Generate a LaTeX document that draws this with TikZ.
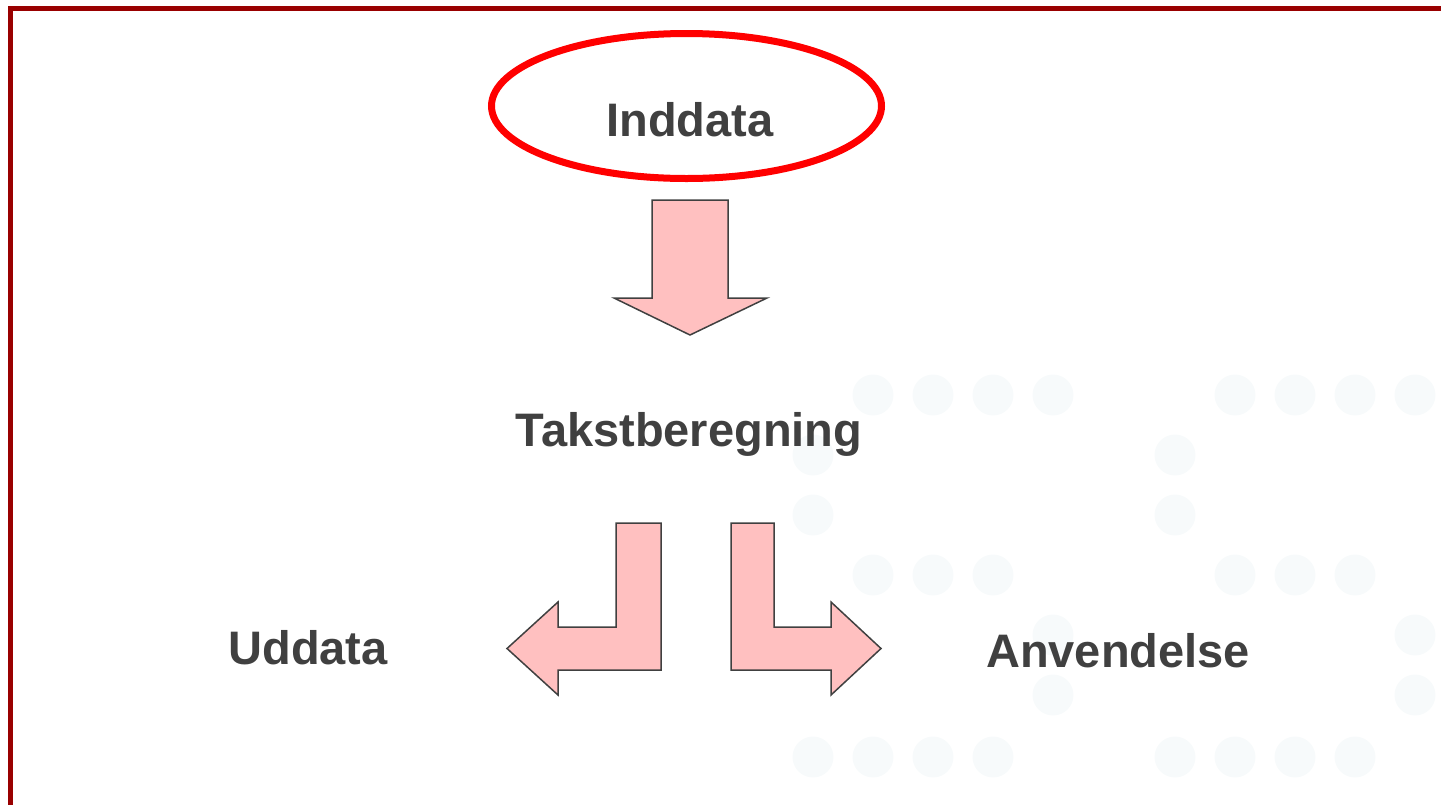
\documentclass[tikz,border=0pt]{standalone}
\usetikzlibrary{shapes.geometric}
\usepackage{fontspec}
\setmainfont{Liberation Sans}
\definecolor{frame}{HTML}{990000}
\definecolor{txt}{HTML}{404040}
\definecolor{pinkfill}{HTML}{FFC0C0}
\definecolor{dotc}{HTML}{F7FAFB}
\begin{document}
\begin{tikzpicture}[x=1pt,y=-1pt,
  lbl/.style={font=\fontsize{47}{50}\selectfont\bfseries, text=txt, anchor=base, inner sep=0pt},
  arrowshape/.style={fill=pinkfill, draw=txt, line width=1.5pt, line join=miter},
  bgdot/.style={fill=dotc, draw=none}]
\useasboundingbox (0,0) rectangle (1441,804);
\clip (0,0) rectangle (1441,804);
% background dot pattern
\foreach \ox in {0,362}{
  \foreach \c in {1,2,3,4}{\fill[bgdot] (813+\ox+60*\c,395) circle (20.5);}
  \foreach \r in {455,515}{\fill[bgdot] (813+\ox,\r) circle (20.5);}
  \foreach \c in {1,2,3}{\fill[bgdot] (813+\ox+60*\c,575) circle (20.5);}
  \foreach \r in {635,695}{\fill[bgdot] (813+\ox+240,\r) circle (20.5);}
  \foreach \c in {0,1,2,3}{\fill[bgdot] (813+\ox+60*\c,757) circle (20.5);}
}
% frame
\draw[frame, line width=5pt] (10.5,1500) -- (10.5,8.5) -- (1500,8.5);
% nodes
\node[ellipse, draw=red, line width=7pt, minimum width=390pt, minimum height=145pt, inner sep=0pt] (inE) at (686.5,106) {};
\node[lbl] (in) at (690,136) {Inddata};
\node[lbl] (tak) at (689,446) {Takstberegning};
\node[lbl] (ud) at (308,664) {Uddata};
\node[lbl] (an) at (1118,667) {Anvendelse};
% arrows
\draw[arrowshape] (652,200) -- (728,200) -- (728,298) -- (767,298) -- (690,335) -- (614,298) -- (652,298) -- cycle;
\draw[arrowshape] (616,523) -- (661,523) -- (661,670) -- (558,670) -- (558,695) -- (507,648.5) -- (558,602) -- (558,627) -- (616,627) -- cycle;
\draw[arrowshape] (774,523) -- (731,523) -- (731,670) -- (831,670) -- (831,695) -- (881,648.5) -- (831,602) -- (831,627) -- (774,627) -- cycle;
\end{tikzpicture}
\end{document}
